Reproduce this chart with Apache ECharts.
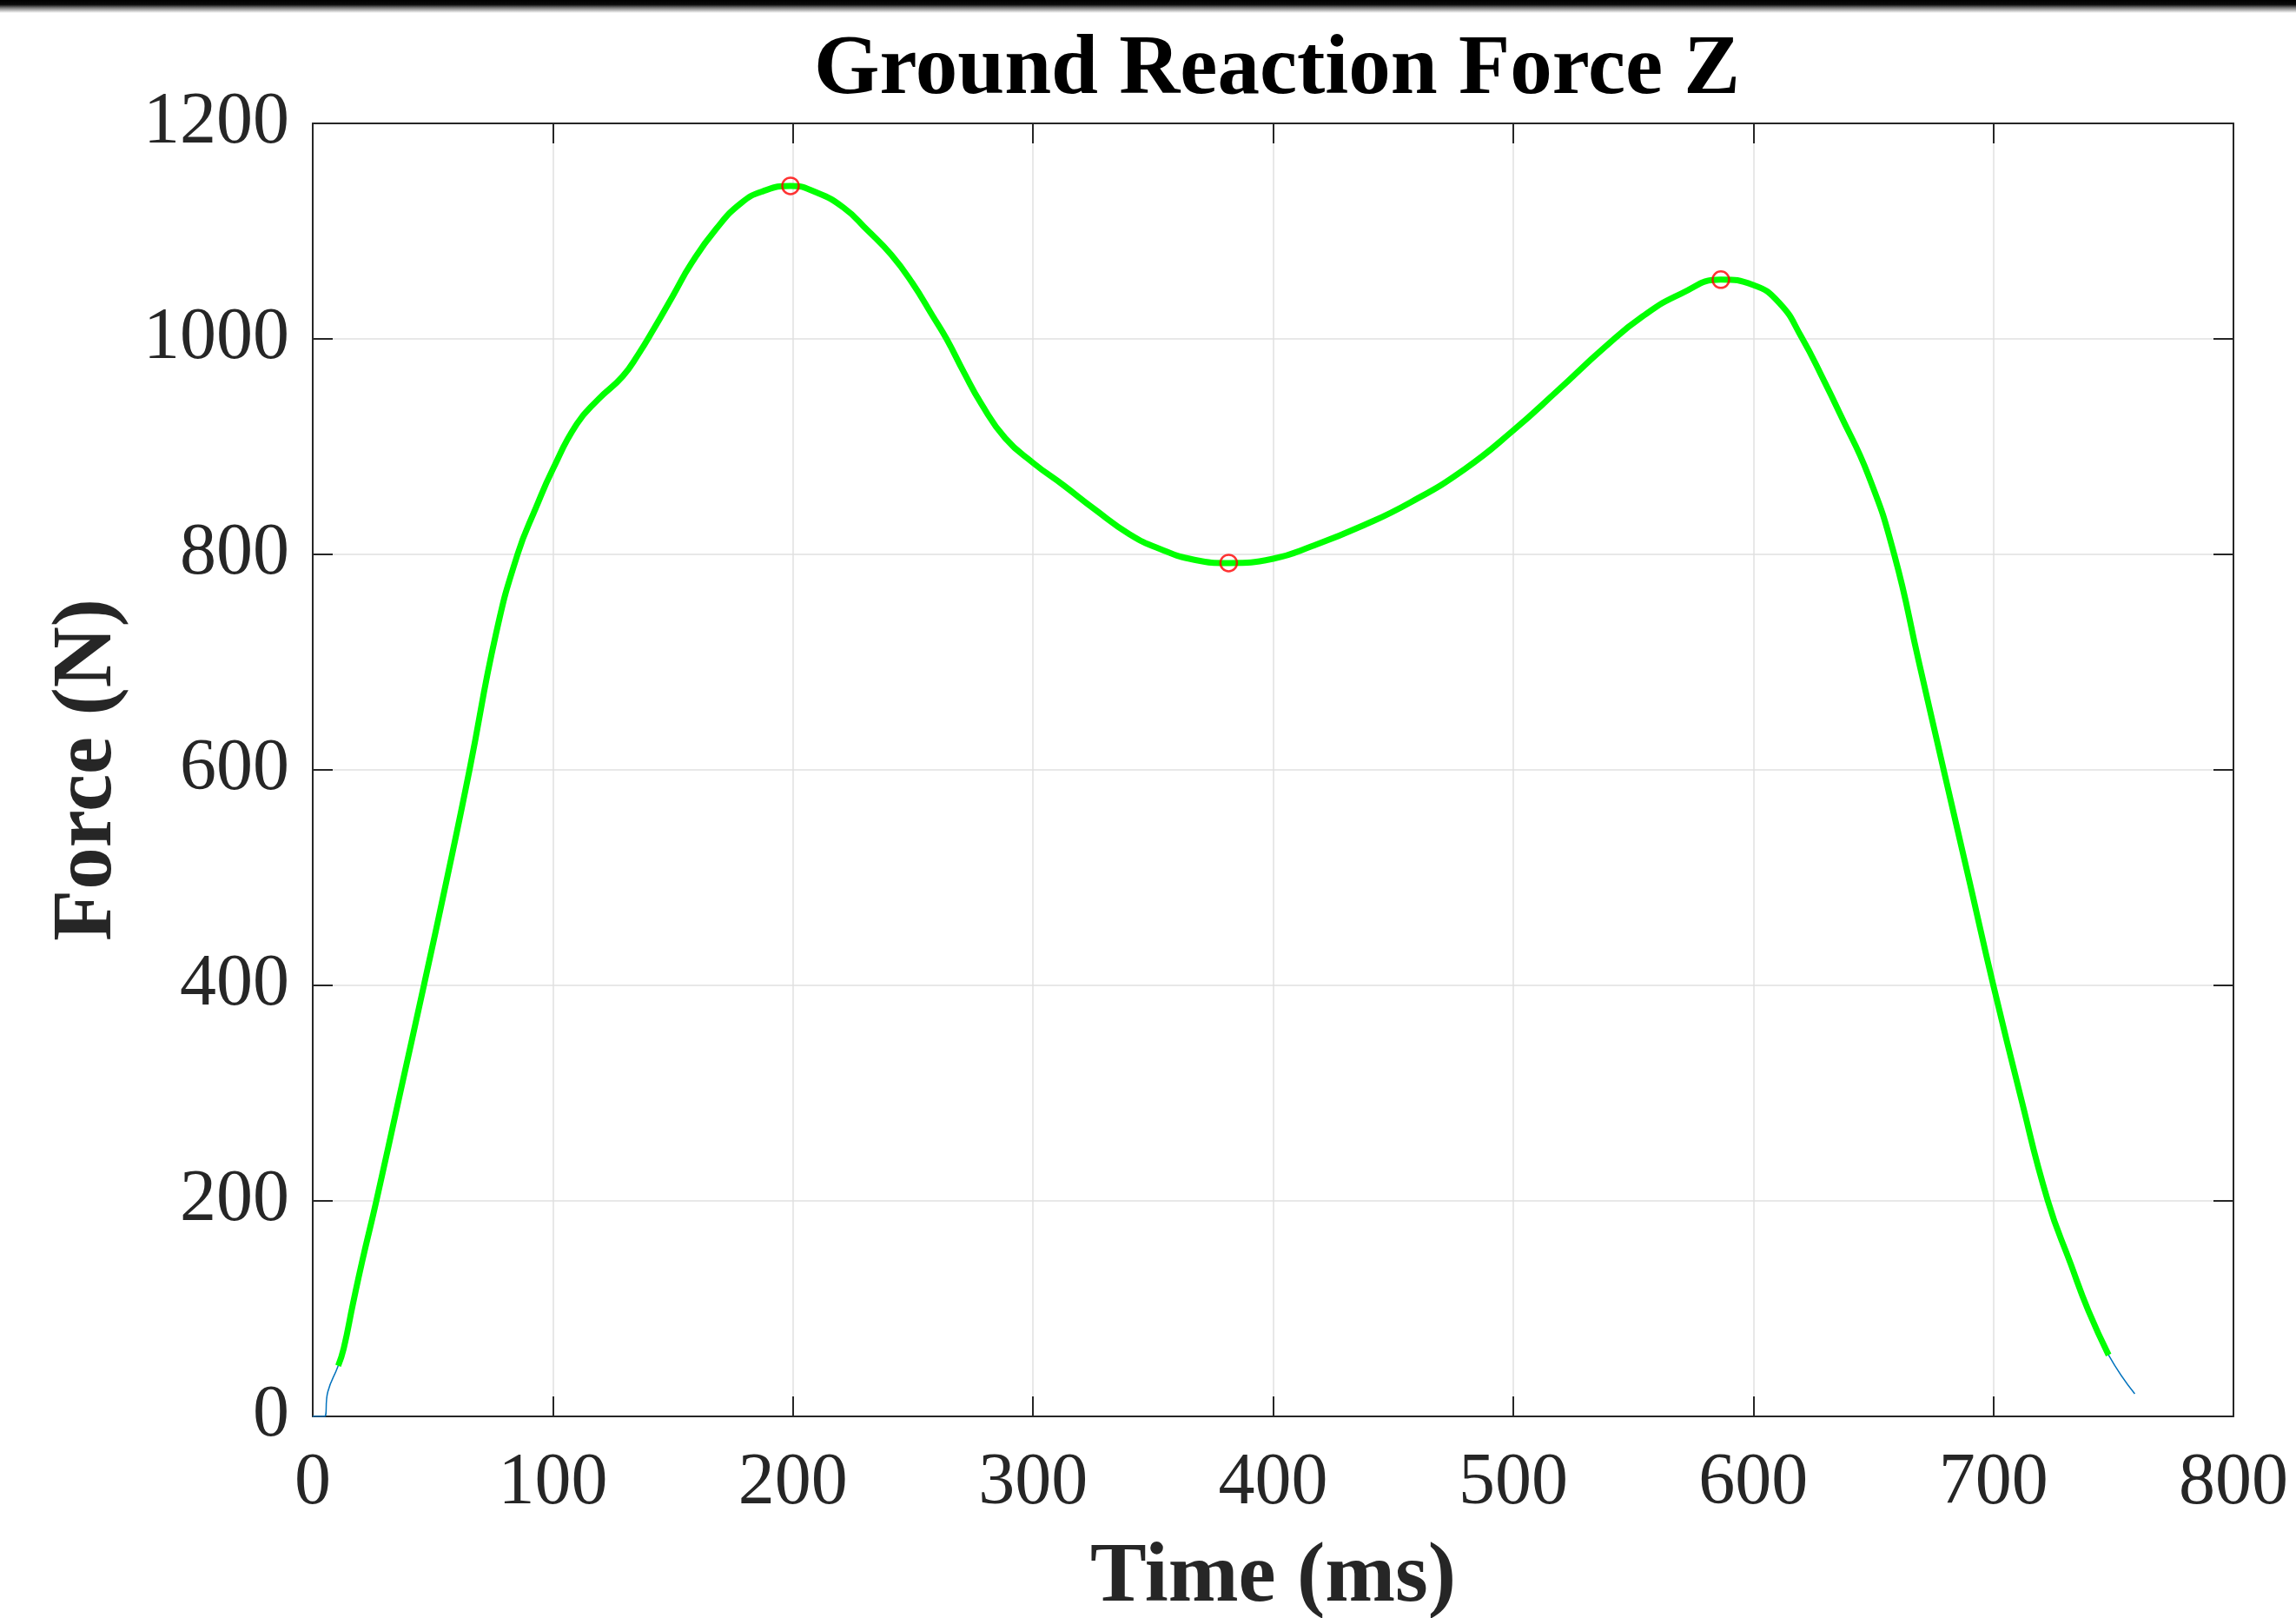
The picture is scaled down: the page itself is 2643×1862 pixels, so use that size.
<!DOCTYPE html>
<html>
<head>
<meta charset="utf-8">
<script src="https://cdn.jsdelivr.net/npm/echarts@6/dist/echarts.min.js"></script>
<style>
html,body{margin:0;padding:0;background:#fff;}
#chart{width:2643px;height:1862px;}
</style>
</head>
<body>
<div id="chart"></div>
<script>
// ---- data ----
const chartTitle = 'Ground Reaction Force Z';
const xName = 'Time (ms)';
const yName = 'Force (N)';
const xTicks = [0, 100, 200, 300, 400, 500, 600, 700, 800];
const yTicks = [0, 200, 400, 600, 800, 1000, 1200];

const timeMs = [0, 4.8, 6.3, 10.6, 12.9, 16.8, 20.7, 26.5, 36.4, 46.3, 56, 65.3, 76.3, 85.3, 93.1, 100,
  110, 119, 129, 135.7, 142, 150, 157.7, 168, 178.4, 187.5, 199, 209.6, 221, 231, 241, 249.7,
  258.3, 264, 271.2, 278.4, 288.4, 300, 312.8, 325.6, 340, 352.9, 367.2, 381.5, 400, 416.7,
  437.7, 457, 479.7, 500, 518.5, 538, 554, 570, 586.5, 600, 611, 620, 629.5, 636, 648,
  658.7, 669, 679.3, 690, 700, 711, 722.7, 732.3, 739.6, 748, 758.9];
const forceN = [0, 0, 23, 47, 63, 105, 145, 200, 300, 400, 500, 600, 726, 800, 844, 879,
  921, 944, 965, 986, 1009, 1040, 1070, 1102, 1126, 1137, 1142, 1136, 1122, 1101, 1078, 1052,
  1021, 1000, 969, 940, 908, 885, 864, 842, 819, 805, 795, 792, 796, 808,
  827, 848, 879, 915, 952, 992, 1021, 1042, 1055, 1050, 1033, 1002, 961, 931, 873,
  800, 700, 600, 497, 400, 300, 200, 141, 98, 57, 21];
// green (stance) segment: first and last sample indices
const greenStartIdx = 3;
const greenEndIdx = 70;
// extrema markers
const peakTimes = [199, 381.5, 586.5];
const peakForces = [1142, 792, 1055];

// ---- build ----
const rawData = timeMs.map((t, i) => [t, forceN[i]]);
const greenData = rawData.slice(greenStartIdx, greenEndIdx + 1);
const peakData = peakTimes.map((t, i) => [t, peakForces[i]]);

const FONT = "'Liberation Serif', 'Times New Roman', serif";
const AX = '#262626';

const chart = echarts.init(document.getElementById('chart'), null, {renderer: 'canvas'});
const axisCommon = {
  type: 'value',
  axisLine: {show: true, onZero: false, lineStyle: {color: AX, width: 2}},
  axisTick: {show: true, inside: true, length: 23, lineStyle: {color: AX, width: 2}},
};
chart.setOption({
  animation: false,
  backgroundColor: '#ffffff',
  title: {
    text: chartTitle,
    left: 1465,
    textAlign: 'center',
    top: 28,
    textStyle: {fontFamily: FONT, fontWeight: 'bold', fontSize: 97, color: '#000'}
  },
  graphic: [{
    type: 'rect', left: 0, top: 0, z: 100,
    shape: {width: 2643, height: 15},
    style: {fill: new echarts.graphic.LinearGradient(0, 0, 0, 1, [
      {offset: 0, color: '#000000'}, {offset: 0.35, color: '#0a0a0a'},
      {offset: 0.6, color: '#7a7a7a'}, {offset: 1, color: '#ffffff'}])}
  }],
  grid: {left: 360, top: 142, right: 72, bottom: 232, containLabel: false, outerBoundsMode: 'none'},
  xAxis: [
    Object.assign({}, axisCommon, {
      position: 'bottom', min: 0, max: 800, interval: 100,
      name: xName, nameLocation: 'middle', nameGap: 138,
      nameTextStyle: {fontFamily: FONT, fontWeight: 'bold', fontSize: 97, color: AX},
      axisLabel: {show: true, margin: 36, fontFamily: FONT, fontSize: 84, color: AX,
        formatter: v => xTicks.includes(v) ? String(v) : ''},
      splitLine: {show: true, lineStyle: {color: '#e0e0e0', width: 1.5}}
    }),
    Object.assign({}, axisCommon, {
      position: 'top', min: 0, max: 800, interval: 100,
      axisLabel: {show: false}, splitLine: {show: false}
    })
  ],
  yAxis: [
    Object.assign({}, axisCommon, {
      position: 'left', min: 0, max: 1200, interval: 200,
      name: yName, nameLocation: 'middle', nameGap: 210,
      nameTextStyle: {fontFamily: FONT, fontWeight: 'bold', fontSize: 97, color: AX},
      axisLabel: {show: true, margin: 27, fontFamily: FONT, fontSize: 84, color: AX,
        formatter: v => yTicks.includes(v) ? String(v) : ''},
      splitLine: {show: true, lineStyle: {color: '#e0e0e0', width: 1.5}}
    }),
    Object.assign({}, axisCommon, {
      position: 'right', min: 0, max: 1200, interval: 200,
      axisLabel: {show: false}, splitLine: {show: false}
    })
  ],
  series: [
    {
      type: 'line', name: 'raw', data: rawData, xAxisIndex: 0, yAxisIndex: 0,
      showSymbol: false, smooth: 0.5,
      lineStyle: {color: '#0072BD', width: 1.5}, z: 2
    },
    {
      type: 'line', name: 'stance', data: greenData, xAxisIndex: 0, yAxisIndex: 0,
      showSymbol: false, smooth: 0.5,
      lineStyle: {color: '#00FF00', width: 7}, z: 3
    },
    {
      type: 'scatter', name: 'peaks', data: peakData, xAxisIndex: 0, yAxisIndex: 0,
      symbol: 'circle', symbolSize: 19,
      itemStyle: {color: 'rgba(0,0,0,0)', borderColor: '#ff0000', borderWidth: 2.5}, z: 4
    }
  ]
});
</script>
</body>
</html>
